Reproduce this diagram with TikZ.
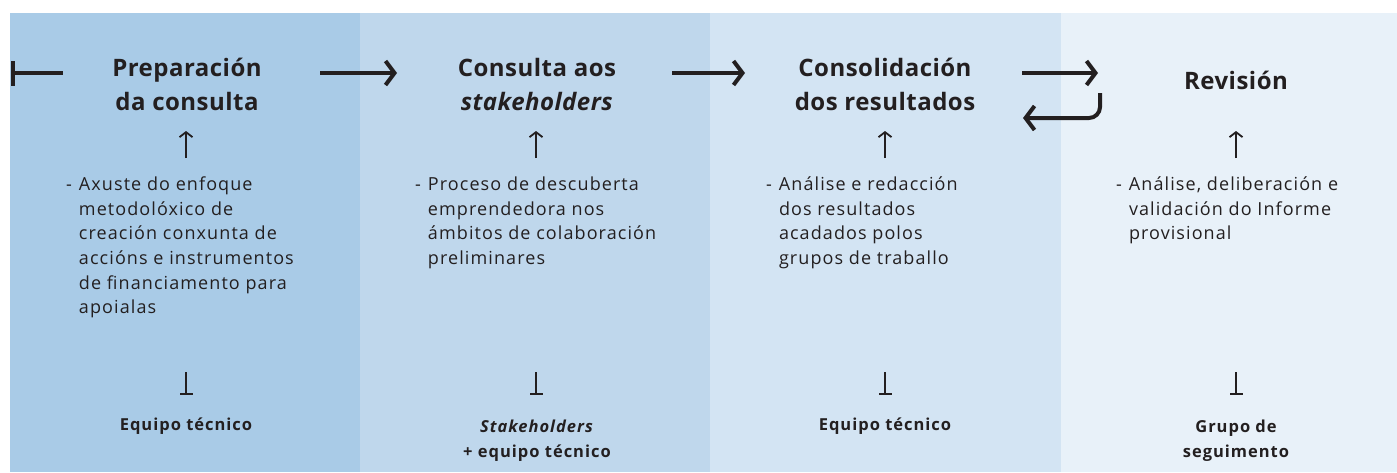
\documentclass[tikz,border=0pt]{standalone}
\usepackage{fontspec}
\setmainfont{Open Sans}[LetterSpace=6]
\newfontfamily\titlefont{Open Sans}[LetterSpace=2]
\usetikzlibrary{arrows.meta}
\definecolor{colA}{HTML}{A9CBE7}
\definecolor{colB}{HTML}{BFD7EC}
\definecolor{colC}{HTML}{D3E4F3}
\definecolor{colD}{HTML}{E8F1F9}
\definecolor{ink}{HTML}{231F20}
\tikzset{
  title/.style={font=\titlefont\fontsize{24}{34}\selectfont\bfseries, text=ink, align=center, inner sep=0pt},
  body/.style={font=\fontsize{18}{24.7}\selectfont, text=ink, inner sep=0pt, anchor=north west},
  who/.style={font=\fontsize{16.5}{25}\selectfont\bfseries, text=ink, align=center, inner sep=0pt},
  flow/.style={line width=4pt, draw=ink, -{Straight Barb[length=9pt,width=24pt,line width=4pt]}},
  up/.style={line width=1.8pt, draw=ink, -{Straight Barb[length=5pt,width=13pt,line width=1.8pt]}},
  tee/.style={line width=1.8pt, draw=ink, -{Bar[width=13pt,line width=1.8pt]}}
}
\newcommand{\dashlist}[1]{\begin{tabular}{@{}l@{\hspace{7pt}}l@{}}- & #1\end{tabular}}
\begin{document}
\begin{tikzpicture}[x=1pt,y=-1pt]
\useasboundingbox (0,0) rectangle (1397,472);
\fill[white] (0,0) rectangle (1397,472);
\fill[colA] (10,13) rectangle (360,472);
\fill[colB] (360,13) rectangle (710,472);
\fill[colC] (710,13) rectangle (1061,472);
\fill[colD] (1061,13) rectangle (1397,472);

\node[title] (t1) at (187,84) {Preparación\\da consulta};
\node[title] (t2) at (537,84) {Consulta aos\\\textit{stakeholders}};
\node[title] (t3) at (885,84) {Consolidación\\dos resultados};
\node[title] (t4) at (1236,80) {Revisión};

\coordinate (s0) at (11,73);
\coordinate (s0e) at (63,73);
\draw[line width=4pt, draw=ink, {Bar[width=25pt,line width=4pt]}-] (s0) -- (s0e);
\coordinate (a1s) at (320,73); \coordinate (a1e) at (397,73);
\coordinate (a2s) at (672,73); \coordinate (a2e) at (745,73);
\coordinate (a3s) at (1022,73); \coordinate (a3e) at (1098,73);
\coordinate (r1) at (1100,93); \coordinate (r2) at (1100,118); \coordinate (r3) at (1023,118);
\draw[flow] (a1s) -- (a1e);
\draw[flow] (a2s) -- (a2e);
\draw[flow] (a3s) -- (a3e);
\draw[flow, rounded corners=11pt] (r1) -- (r2) -- (r3);

\foreach \i/\x in {1/186,2/536,3/885,4/1236}{
  \coordinate (u\i b) at (\x,158);
  \coordinate (u\i t) at (\x,131);
  \draw[up] (u\i b) -- (u\i t);
  \coordinate (k\i t) at (\x,372);
  \coordinate (k\i b) at (\x,395);
  \draw[tee] (k\i t) -- (k\i b);
}

\node[body] (b1) at (66,173) {\dashlist{Axuste do enfoque\\ & metodolóxico de\\ & creación conxunta de\\ & accións e instrumentos\\ & de financiamento para\\ & apoialas}};
\node[body] (b2) at (415,173) {\dashlist{Proceso de descuberta\\ & emprendedora nos\\ & ámbitos de colaboración\\ & preliminares}};
\node[body] (b3) at (766,173) {\dashlist{Análise e redacción\\ & dos resultados\\ & acadados polos\\ & grupos de traballo}};
\node[body] (b4) at (1116,173) {\dashlist{Análise, deliberación e\\ & validación do Informe\\ & provisional}};

\node[who] (w1) at (186,426) {Equipo técnico};
\node[who] (w2) at (537,441) {\textit{Stakeholders}\\+ equipo técnico};
\node[who] (w3) at (885,426) {Equipo técnico};
\node[who] (w4) at (1236,441) {Grupo de\\seguimento};
\end{tikzpicture}
\end{document}
